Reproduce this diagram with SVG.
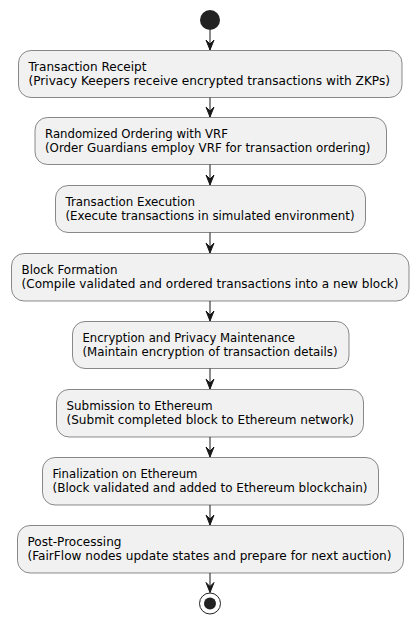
<svg xmlns="http://www.w3.org/2000/svg" width="419" height="625" viewBox="0 0 419 625">
<style>
.box{fill:#F1F1F1;stroke:#181818;stroke-width:0.5}
.t{font-family:"DejaVu Sans",sans-serif;font-size:12px;fill:#000000}
.ln{stroke:#181818;stroke-width:1;fill:none}
.ah{fill:#181818;stroke:#181818;stroke-width:1}
</style>
<rect width="419" height="625" fill="#FFFFFF"/>
<g id="start"><circle cx="210" cy="20" r="10" fill="#222222"/></g>
<g id="n1"><rect class="box" x="18.5" y="50.5" width="383.5" height="47" rx="12.5"/><text class="t" x="28.5" y="71" textLength="118" lengthAdjust="spacingAndGlyphs">Transaction Receipt</text><text class="t" x="28.5" y="85" textLength="361.5" lengthAdjust="spacingAndGlyphs">(Privacy Keepers receive encrypted transactions with ZKPs)</text></g>
<g id="n2"><rect class="box" x="35" y="117.5" width="351.5" height="47" rx="12.5"/><text class="t" x="45" y="138" textLength="183" lengthAdjust="spacingAndGlyphs">Randomized Ordering with VRF</text><text class="t" x="45" y="152" textLength="325.5" lengthAdjust="spacingAndGlyphs">(Order Guardians employ VRF for transaction ordering)</text></g>
<g id="n3"><rect class="box" x="55.5" y="185.5" width="310" height="47" rx="12.5"/><text class="t" x="65.5" y="206" textLength="129.5" lengthAdjust="spacingAndGlyphs">Transaction Execution</text><text class="t" x="65.5" y="220" textLength="289" lengthAdjust="spacingAndGlyphs">(Execute transactions in simulated environment)</text></g>
<g id="n4"><rect class="box" x="11.5" y="253.5" width="397.5" height="47.5" rx="12.5"/><text class="t" x="21.5" y="274" textLength="96" lengthAdjust="spacingAndGlyphs">Block Formation</text><text class="t" x="21.5" y="288" textLength="377" lengthAdjust="spacingAndGlyphs">(Compile validated and ordered transactions into a new block)</text></g>
<g id="n5"><rect class="box" x="72.5" y="321.5" width="276.5" height="47" rx="12.5"/><text class="t" x="82.5" y="342" textLength="212.5" lengthAdjust="spacingAndGlyphs">Encryption and Privacy Maintenance</text><text class="t" x="82.5" y="356" textLength="255" lengthAdjust="spacingAndGlyphs">(Maintain encryption of transaction details)</text></g>
<g id="n6"><rect class="box" x="56.5" y="389.5" width="307" height="47.5" rx="12.5"/><text class="t" x="66.5" y="410" textLength="146" lengthAdjust="spacingAndGlyphs">Submission to Ethereum</text><text class="t" x="66.5" y="424" textLength="287.5" lengthAdjust="spacingAndGlyphs">(Submit completed block to Ethereum network)</text></g>
<g id="n7"><rect class="box" x="42.5" y="457.5" width="336" height="47.5" rx="12.5"/><text class="t" x="52.5" y="478" textLength="145" lengthAdjust="spacingAndGlyphs">Finalization on Ethereum</text><text class="t" x="52.5" y="492" textLength="315" lengthAdjust="spacingAndGlyphs">(Block validated and added to Ethereum blockchain)</text></g>
<g id="n8"><rect class="box" x="17.5" y="525.5" width="386" height="47.5" rx="12.5"/><text class="t" x="27.5" y="546" textLength="94" lengthAdjust="spacingAndGlyphs">Post-Processing</text><text class="t" x="27.5" y="560" textLength="364" lengthAdjust="spacingAndGlyphs">(FairFlow nodes update states and prepare for next auction)</text></g>
<g id="end"><circle cx="210" cy="603.5" r="10.5" fill="none" stroke="#222222" stroke-width="1"/><circle cx="210" cy="603.5" r="6" fill="#222222"/></g>
<g id="connectors">
<line class="ln" x1="210" y1="30" x2="210" y2="50"/><polygon class="ah" points="206,40 210,50 214,40 210,44"/>
<line class="ln" x1="210" y1="97.5" x2="210" y2="117"/><polygon class="ah" points="206,107 210,117 214,107 210,111"/>
<line class="ln" x1="210" y1="164.5" x2="210" y2="185"/><polygon class="ah" points="206,175 210,185 214,175 210,179"/>
<line class="ln" x1="210" y1="232.5" x2="210" y2="253"/><polygon class="ah" points="206,243 210,253 214,243 210,247"/>
<line class="ln" x1="210" y1="301" x2="210" y2="321"/><polygon class="ah" points="206,311 210,321 214,311 210,315"/>
<line class="ln" x1="210" y1="368.5" x2="210" y2="389"/><polygon class="ah" points="206,379 210,389 214,379 210,383"/>
<line class="ln" x1="210" y1="437" x2="210" y2="457"/><polygon class="ah" points="206,447 210,457 214,447 210,451"/>
<line class="ln" x1="210" y1="505" x2="210" y2="525"/><polygon class="ah" points="206,515 210,525 214,515 210,519"/>
<line class="ln" x1="210" y1="573" x2="210" y2="592.5"/><polygon class="ah" points="206,582.5 210,592.5 214,582.5 210,586.5"/>
</g>
</svg>
